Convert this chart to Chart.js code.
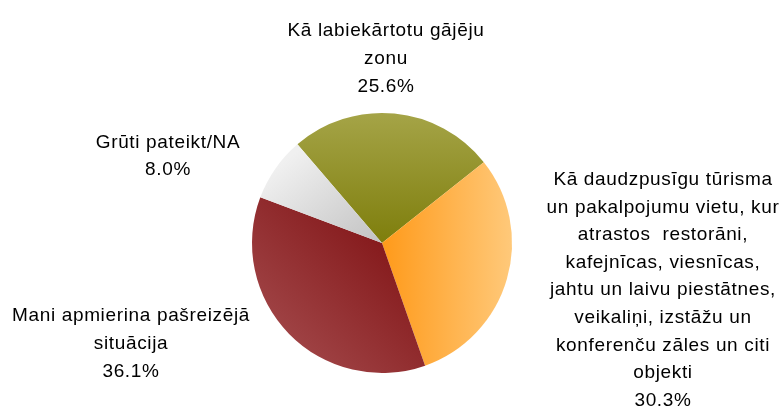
<!DOCTYPE html>
<html>
<head>
<meta charset="utf-8">
<script src="https://cdn.jsdelivr.net/npm/chart.js@4"></script>
<style>
    html, body { margin: 0; padding: 0; background: #fff; }
    #wrap { width: 782px; height: 415px; }
</style>
</head>
<body>
<div id="wrap"><canvas id="pieChart" width="782" height="415"></canvas></div>
<script>
// dati
const categories = [
    'Kā labiekārtotu gājēju zonu',
    'Kā daudzpusīgu tūrisma un pakalpojumu vietu, kur atrastos  restorāni, kafejnīcas, viesnīcas, jahtu un laivu piestātnes, veikaliņi, izstāžu un konferenču zāles un citi objekti',
    'Mani apmierina pašreizējā situācija',
    'Grūti pateikt/NA'
];
const shares = [25.6, 30.3, 36.1, 8.0];
const labelLines = [
    ['Kā labiekārtotu gājēju', 'zonu'],
    ['Kā daudzpusīgu tūrisma', 'un pakalpojumu vietu, kur', 'atrastos  restorāni,', 'kafejnīcas, viesnīcas,', 'jahtu un laivu piestātnes,', 'veikaliņi, izstāžu un', 'konferenču zāles un citi', 'objekti'],
    ['Mani apmierina pašreizējā', 'situācija'],
    ['Grūti pateikt/NA']
];

// label anchors (centre x, first baseline y) and line step
const labelAnchors = [[386, 36], [663, 185], [131, 321], [168, 148]];
const lineStep = [28, 27.6, 28, 27];

// gradient stops: [inner, outer]
const sliceColors = [
    ['#7e7e0c', '#a5a447'],
    ['#ff9a1a', '#ffc97a'],
    ['#861b1d', '#9e4143'],
    ['#c2c2c2', '#f0f0f0']
];

function sliceFill(context) {
    const chart = context.chart;
    const area = chart.chartArea;
    const i = context.dataIndex;
    if (!area) return sliceColors[i][1];
    const ctx = chart.ctx;
    const cx = (area.left + area.right) / 2;
    const cy = (area.top + area.bottom) / 2;
    const r = Math.min(area.right - area.left, area.bottom - area.top) / 2;
    let g;
    if (i === 0) g = ctx.createLinearGradient(cx, cy, cx, cy - r);
    else if (i === 1) g = ctx.createLinearGradient(cx, cy, cx + r, cy);
    else if (i === 2) g = ctx.createLinearGradient(cx, cy, cx - r * 0.7, cy + r * 0.7);
    else g = ctx.createLinearGradient(cx, cy, cx - r * 0.6, cy - r * 0.75);
    g.addColorStop(0, sliceColors[i][0]);
    g.addColorStop(1, sliceColors[i][1]);
    return g;
}

const pieLabels = {
    id: 'pieLabels',
    afterDraw(chart) {
        const ctx = chart.ctx;
        const data = chart.data.datasets[0].data;
        ctx.save();
        ctx.fillStyle = '#000';
        ctx.font = '19px "Liberation Sans", Arial, sans-serif';
        ctx.letterSpacing = '0.65px';
        ctx.textAlign = 'center';
        ctx.textBaseline = 'alphabetic';
        labelLines.forEach((lines, i) => {
            const all = lines.concat([data[i].toFixed(1) + '%']);
            const [x, y] = labelAnchors[i];
            all.forEach((t, k) => ctx.fillText(t, x, y + k * lineStep[i]));
        });
        ctx.restore();
    }
};

new Chart(document.getElementById('pieChart'), {
    type: 'pie',
    data: {
        labels: categories,
        datasets: [{
            data: shares,
            backgroundColor: sliceFill,
            borderWidth: 0,
            hoverOffset: 0
        }]
    },
    options: {
        responsive: false,
        animation: false,
        rotation: -40.6,
        layout: { padding: { left: 252, right: 270, top: 113, bottom: 42 } },
        plugins: {
            legend: { display: false },
            tooltip: { enabled: false }
        }
    },
    plugins: [pieLabels]
});
</script>
</body>
</html>
